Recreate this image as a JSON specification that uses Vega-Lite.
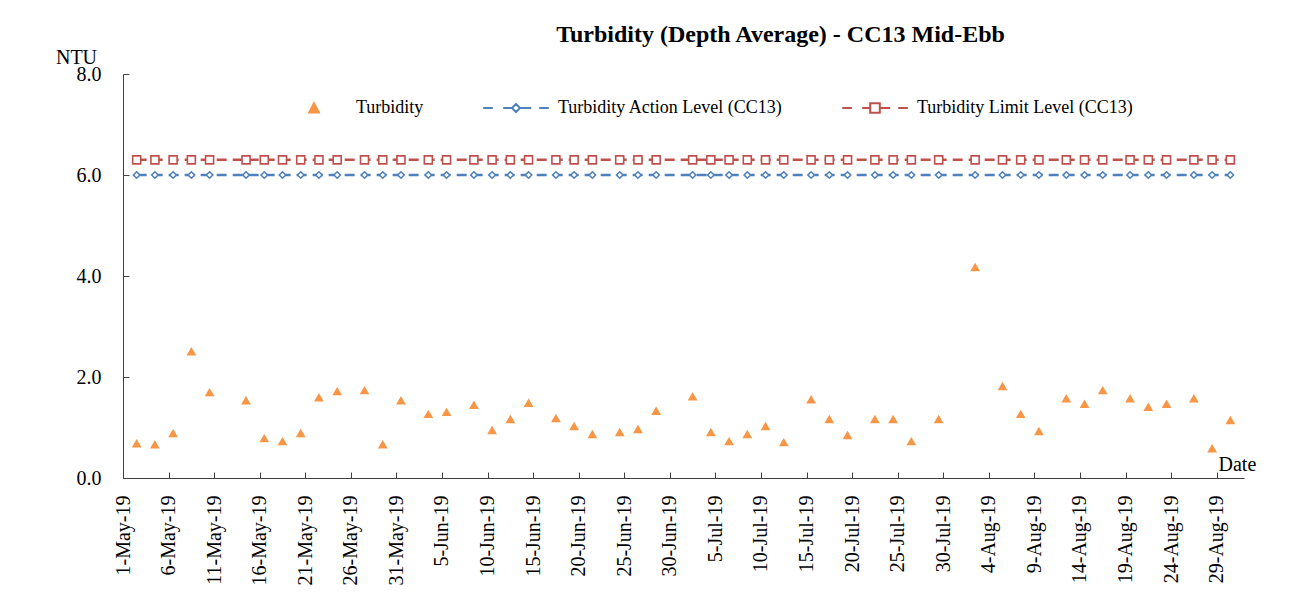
{
  "$schema": "https://vega.github.io/schema/vega-lite/v6.json",
  "width": 1121,
  "height": 404,
  "autosize": {"type": "none"},
  "padding": {"left": 123, "top": 74, "right": 54, "bottom": 128},
  "background": "white",
  "config": {
    "view": {"stroke": null},
    "font": "Liberation Serif",
    "legend": {
      "orient": "none",
      "legendX": 182,
      "legendY": 25,
      "direction": "horizontal",
      "labelFont": "Liberation Serif",
      "labelFontSize": 18,
      "labelColor": "black",
      "labelLimit": 400,
      "symbolSize": 256,
      "symbolStrokeWidth": 2,
      "labelOffset": 33,
      "columnPadding": 55,
      "padding": 0
    }
  },
  "title": {
    "text": "Turbidity (Depth Average) - CC13 Mid-Ebb",
    "font": "Liberation Serif",
    "fontSize": 24,
    "fontWeight": "bold",
    "color": "black",
    "anchor": "middle",
    "dx": 97,
    "offset": -19,
    "baseline": "alphabetic"
  },
  "data": {
    "values": [
      {"date": "2019-05-02T12:00:00", "turbidity": 0.69, "action": 6, "limit": 6.3},
      {"date": "2019-05-04T12:00:00", "turbidity": 0.67, "action": 6, "limit": 6.3},
      {"date": "2019-05-06T12:00:00", "turbidity": 0.89, "action": 6, "limit": 6.3},
      {"date": "2019-05-08T12:00:00", "turbidity": 2.51, "action": 6, "limit": 6.3},
      {"date": "2019-05-10T12:00:00", "turbidity": 1.70, "action": 6, "limit": 6.3},
      {"date": "2019-05-14T12:00:00", "turbidity": 1.54, "action": 6, "limit": 6.3},
      {"date": "2019-05-16T12:00:00", "turbidity": 0.79, "action": 6, "limit": 6.3},
      {"date": "2019-05-18T12:00:00", "turbidity": 0.73, "action": 6, "limit": 6.3},
      {"date": "2019-05-20T12:00:00", "turbidity": 0.89, "action": 6, "limit": 6.3},
      {"date": "2019-05-22T12:00:00", "turbidity": 1.60, "action": 6, "limit": 6.3},
      {"date": "2019-05-24T12:00:00", "turbidity": 1.72, "action": 6, "limit": 6.3},
      {"date": "2019-05-27T12:00:00", "turbidity": 1.74, "action": 6, "limit": 6.3},
      {"date": "2019-05-29T12:00:00", "turbidity": 0.67, "action": 6, "limit": 6.3},
      {"date": "2019-05-31T12:00:00", "turbidity": 1.54, "action": 6, "limit": 6.3},
      {"date": "2019-06-03T12:00:00", "turbidity": 1.27, "action": 6, "limit": 6.3},
      {"date": "2019-06-05T12:00:00", "turbidity": 1.31, "action": 6, "limit": 6.3},
      {"date": "2019-06-08T12:00:00", "turbidity": 1.45, "action": 6, "limit": 6.3},
      {"date": "2019-06-10T12:00:00", "turbidity": 0.95, "action": 6, "limit": 6.3},
      {"date": "2019-06-12T12:00:00", "turbidity": 1.17, "action": 6, "limit": 6.3},
      {"date": "2019-06-14T12:00:00", "turbidity": 1.49, "action": 6, "limit": 6.3},
      {"date": "2019-06-17T12:00:00", "turbidity": 1.19, "action": 6, "limit": 6.3},
      {"date": "2019-06-19T12:00:00", "turbidity": 1.03, "action": 6, "limit": 6.3},
      {"date": "2019-06-21T12:00:00", "turbidity": 0.87, "action": 6, "limit": 6.3},
      {"date": "2019-06-24T12:00:00", "turbidity": 0.91, "action": 6, "limit": 6.3},
      {"date": "2019-06-26T12:00:00", "turbidity": 0.97, "action": 6, "limit": 6.3},
      {"date": "2019-06-28T12:00:00", "turbidity": 1.33, "action": 6, "limit": 6.3},
      {"date": "2019-07-02T12:00:00", "turbidity": 1.62, "action": 6, "limit": 6.3},
      {"date": "2019-07-04T12:00:00", "turbidity": 0.91, "action": 6, "limit": 6.3},
      {"date": "2019-07-06T12:00:00", "turbidity": 0.73, "action": 6, "limit": 6.3},
      {"date": "2019-07-08T12:00:00", "turbidity": 0.87, "action": 6, "limit": 6.3},
      {"date": "2019-07-10T12:00:00", "turbidity": 1.03, "action": 6, "limit": 6.3},
      {"date": "2019-07-12T12:00:00", "turbidity": 0.71, "action": 6, "limit": 6.3},
      {"date": "2019-07-15T12:00:00", "turbidity": 1.56, "action": 6, "limit": 6.3},
      {"date": "2019-07-17T12:00:00", "turbidity": 1.17, "action": 6, "limit": 6.3},
      {"date": "2019-07-19T12:00:00", "turbidity": 0.85, "action": 6, "limit": 6.3},
      {"date": "2019-07-22T12:00:00", "turbidity": 1.17, "action": 6, "limit": 6.3},
      {"date": "2019-07-24T12:00:00", "turbidity": 1.17, "action": 6, "limit": 6.3},
      {"date": "2019-07-26T12:00:00", "turbidity": 0.73, "action": 6, "limit": 6.3},
      {"date": "2019-07-29T12:00:00", "turbidity": 1.17, "action": 6, "limit": 6.3},
      {"date": "2019-08-02T12:00:00", "turbidity": 4.18, "action": 6, "limit": 6.3},
      {"date": "2019-08-05T12:00:00", "turbidity": 1.82, "action": 6, "limit": 6.3},
      {"date": "2019-08-07T12:00:00", "turbidity": 1.27, "action": 6, "limit": 6.3},
      {"date": "2019-08-09T12:00:00", "turbidity": 0.93, "action": 6, "limit": 6.3},
      {"date": "2019-08-12T12:00:00", "turbidity": 1.58, "action": 6, "limit": 6.3},
      {"date": "2019-08-14T12:00:00", "turbidity": 1.47, "action": 6, "limit": 6.3},
      {"date": "2019-08-16T12:00:00", "turbidity": 1.74, "action": 6, "limit": 6.3},
      {"date": "2019-08-19T12:00:00", "turbidity": 1.58, "action": 6, "limit": 6.3},
      {"date": "2019-08-21T12:00:00", "turbidity": 1.41, "action": 6, "limit": 6.3},
      {"date": "2019-08-23T12:00:00", "turbidity": 1.47, "action": 6, "limit": 6.3},
      {"date": "2019-08-26T12:00:00", "turbidity": 1.58, "action": 6, "limit": 6.3},
      {"date": "2019-08-28T12:00:00", "turbidity": 0.59, "action": 6, "limit": 6.3},
      {"date": "2019-08-30T12:00:00", "turbidity": 1.15, "action": 6, "limit": 6.3}
    ]
  },
  "encoding": {
    "x": {
      "field": "date",
      "type": "temporal",
      "scale": {"domain": [{"year": 2019, "month": 5, "date": 1}, {"year": 2019, "month": 9, "date": 1}]},
      "axis": {
        "values": [
          {"year": 2019, "month": 5, "date": 1}, {"year": 2019, "month": 5, "date": 6}, {"year": 2019, "month": 5, "date": 11},
          {"year": 2019, "month": 5, "date": 16}, {"year": 2019, "month": 5, "date": 21}, {"year": 2019, "month": 5, "date": 26},
          {"year": 2019, "month": 5, "date": 31}, {"year": 2019, "month": 6, "date": 5}, {"year": 2019, "month": 6, "date": 10},
          {"year": 2019, "month": 6, "date": 15}, {"year": 2019, "month": 6, "date": 20}, {"year": 2019, "month": 6, "date": 25},
          {"year": 2019, "month": 6, "date": 30}, {"year": 2019, "month": 7, "date": 5}, {"year": 2019, "month": 7, "date": 10},
          {"year": 2019, "month": 7, "date": 15}, {"year": 2019, "month": 7, "date": 20}, {"year": 2019, "month": 7, "date": 25},
          {"year": 2019, "month": 7, "date": 30}, {"year": 2019, "month": 8, "date": 4}, {"year": 2019, "month": 8, "date": 9},
          {"year": 2019, "month": 8, "date": 14}, {"year": 2019, "month": 8, "date": 19}, {"year": 2019, "month": 8, "date": 24},
          {"year": 2019, "month": 8, "date": 29}
        ],
        "format": "%-d-%b-%y",
        "labelAngle": 270,
        "labelAlign": "right",
        "labelBaseline": "middle",
        "labelFont": "Liberation Serif",
        "labelFontSize": 20,
        "labelColor": "black",
        "labelPadding": 23,
        "labelOverlap": false,
        "labelFlush": false,
        "tickSize": -6,
        "tickColor": "#404040",
        "domainColor": "#404040",
        "grid": false,
        "title": "Date",
        "titleFont": "Liberation Serif",
        "titleFontSize": 20,
        "titleFontWeight": "normal",
        "titleColor": "black",
        "titleAlign": "left",
        "titleBaseline": "alphabetic",
        "titleAngle": 0,
        "titleX": 1095,
        "titleY": -8
      }
    }
  },
  "layer": [
    {
      "mark": {"type": "line", "color": "#4F81BD", "strokeWidth": 2.5, "strokeDash": [10, 6]},
      "encoding": {
        "y": {"field": "action", "type": "quantitative", "scale": {"domain": [0, 8]},
          "axis": {"values": [0, 2, 4, 6, 8], "format": ".1f", "title": "NTU", "titleAngle": 0, "titleAlign": "center", "titleBaseline": "alphabetic", "titleX": -47, "titleY": -11, "titleFont": "Liberation Serif", "titleFontSize": 20, "titleFontWeight": "normal", "titleColor": "black", "labelFont": "Liberation Serif", "labelFontSize": 20, "labelColor": "black", "labelPadding": 28, "tickSize": -6, "tickColor": "#404040", "domainColor": "#404040", "grid": false}}
      }
    },
    {
      "mark": {"type": "line", "color": "#C0504D", "strokeWidth": 2.5, "strokeDash": [10, 6]},
      "encoding": {
        "y": {"field": "limit", "type": "quantitative", "scale": {"domain": [0, 8]},
          "axis": {"values": [0, 2, 4, 6, 8], "format": ".1f", "title": "NTU", "titleAngle": 0, "titleAlign": "center", "titleBaseline": "alphabetic", "titleX": -47, "titleY": -11, "titleFont": "Liberation Serif", "titleFontSize": 20, "titleFontWeight": "normal", "titleColor": "black", "labelFont": "Liberation Serif", "labelFontSize": 20, "labelColor": "black", "labelPadding": 28, "tickSize": -6, "tickColor": "#404040", "domainColor": "#404040", "grid": false}}
      }
    },
    {
      "mark": {"type": "point", "shape": "diamond", "filled": true, "fill": "white", "stroke": "#4F81BD", "strokeWidth": 1.6, "size": 42, "opacity": 1},
      "encoding": {
        "y": {"field": "action", "type": "quantitative", "scale": {"domain": [0, 8]},
          "axis": {"values": [0, 2, 4, 6, 8], "format": ".1f", "title": "NTU", "titleAngle": 0, "titleAlign": "center", "titleBaseline": "alphabetic", "titleX": -47, "titleY": -11, "titleFont": "Liberation Serif", "titleFontSize": 20, "titleFontWeight": "normal", "titleColor": "black", "labelFont": "Liberation Serif", "labelFontSize": 20, "labelColor": "black", "labelPadding": 28, "tickSize": -6, "tickColor": "#404040", "domainColor": "#404040", "grid": false}}
      }
    },
    {
      "mark": {"type": "point", "shape": "square", "filled": true, "fill": "white", "stroke": "#C0504D", "strokeWidth": 1.6, "size": 64, "opacity": 1},
      "encoding": {
        "y": {"field": "limit", "type": "quantitative", "scale": {"domain": [0, 8]},
          "axis": {"values": [0, 2, 4, 6, 8], "format": ".1f", "title": "NTU", "titleAngle": 0, "titleAlign": "center", "titleBaseline": "alphabetic", "titleX": -47, "titleY": -11, "titleFont": "Liberation Serif", "titleFontSize": 20, "titleFontWeight": "normal", "titleColor": "black", "labelFont": "Liberation Serif", "labelFontSize": 20, "labelColor": "black", "labelPadding": 28, "tickSize": -6, "tickColor": "#404040", "domainColor": "#404040", "grid": false}}
      }
    },
    {
      "mark": {"type": "point", "shape": "triangle-up", "filled": true, "color": "#F79646", "size": 95, "opacity": 1},
      "encoding": {
        "y": {"field": "turbidity", "type": "quantitative", "scale": {"domain": [0, 8]},
          "axis": {"values": [0, 2, 4, 6, 8], "format": ".1f", "title": "NTU", "titleAngle": 0, "titleAlign": "center", "titleBaseline": "alphabetic", "titleX": -47, "titleY": -11, "titleFont": "Liberation Serif", "titleFontSize": 20, "titleFontWeight": "normal", "titleColor": "black", "labelFont": "Liberation Serif", "labelFontSize": 20, "labelColor": "black", "labelPadding": 28, "tickSize": -6, "tickColor": "#404040", "domainColor": "#404040", "grid": false}}
      }
    },
    {
      "transform": [{"filter": "false"}, {"fold": ["turbidity"], "as": ["series", "v"]}],
      "mark": {"type": "point", "filled": true, "size": 256, "strokeWidth": 2, "opacity": 1},
      "encoding": {
        "fill": {"field": "series", "type": "nominal",
          "scale": {"domain": ["Turbidity", "Turbidity Action Level (CC13)", "Turbidity Limit Level (CC13)"], "range": ["#F79646", "#FFFFFF", "#FFFFFF"]},
          "legend": {"title": null}},
        "stroke": {"field": "series", "type": "nominal",
          "scale": {"domain": ["Turbidity", "Turbidity Action Level (CC13)", "Turbidity Limit Level (CC13)"], "range": ["#F79646", "#4F81BD", "#C0504D"]},
          "legend": {"title": null}},
        "shape": {"field": "series", "type": "nominal",
          "scale": {"domain": ["Turbidity", "Turbidity Action Level (CC13)", "Turbidity Limit Level (CC13)"],
            "range": [
              "M-4.1,0L-4.1,0M4.1,0L4.1,0M0,-0.6L0.6,0.55L-0.6,0.55Z",
              "M-4.1,0H-2.9M-1.6,0H-0.5M0,-0.5L0.5,0L0,0.5L-0.5,0ZM0.5,0H1.9M2.9,0H4.1",
              "M-4.1,0H-2.9M-1.6,0H-0.6M-0.6,-0.6H0.6V0.6H-0.6ZM0.6,0H1.9M2.9,0H4.1"
            ]},
          "legend": {"title": null}}
      }
    }
  ]
}
